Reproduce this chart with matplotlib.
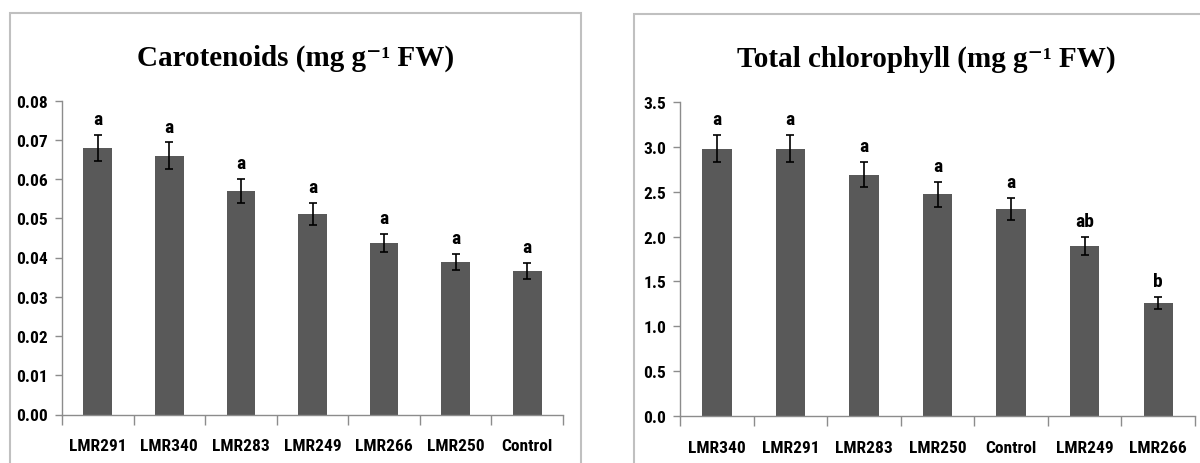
import matplotlib
matplotlib.use("Agg")
import matplotlib.pyplot as plt
from matplotlib.patches import Rectangle
from matplotlib.ticker import FormatStrFormatter
import numpy as np

tick_font = ["Roboto Condensed", "Liberation Sans"]
title_font = ["Liberation Serif", "DejaVu Serif"]

# carotenoids panel
car_labels = ["LMR291", "LMR340", "LMR283", "LMR249", "LMR266", "LMR250", "Control"]
car_values = [0.0679, 0.0659, 0.0569, 0.0512, 0.0438, 0.0389, 0.0365]
car_errors = [0.0034, 0.0034, 0.0030, 0.0028, 0.0023, 0.0020, 0.0020]
car_letters = ["a", "a", "a", "a", "a", "a", "a"]

# total chlorophyll panel
chl_labels = ["LMR340", "LMR291", "LMR283", "LMR250", "Control", "LMR249", "LMR266"]
chl_values = [2.98, 2.98, 2.69, 2.47, 2.31, 1.90, 1.26]
chl_errors = [0.15, 0.15, 0.14, 0.14, 0.12, 0.10, 0.07]
chl_letters = ["a", "a", "a", "a", "a", "ab", "b"]

bar_color = "#595959"
axis_color = "#8c8c8c"
box_color = "#c0c0c0"

W, H = 1200, 464
fig = plt.figure(figsize=(12, 4.64), dpi=100, facecolor="white")

# panel frames
fig.patches.append(Rectangle((10 / W, -0.1), 571 / W, 1.1 - 14 / H,
                             transform=fig.transFigure, fill=False,
                             edgecolor=box_color, linewidth=1.5))
fig.patches.append(Rectangle((634 / W, -0.1), 0.6, 1.1 - 15 / H,
                             transform=fig.transFigure, fill=False,
                             edgecolor=box_color, linewidth=1.5))


def draw_panel(rect, labels, values, errors, letters, ymax, step, fmt):
    ax = fig.add_axes(rect)
    x = np.arange(len(labels))
    ax.bar(x, values, width=0.4, color=bar_color, zorder=2)
    ax.errorbar(x, values, yerr=errors, fmt="none", ecolor="black",
                elinewidth=1.2, capsize=3, capthick=1.2, zorder=3)
    for xi, v, e, t in zip(x, values, errors, letters):
        ax.annotate(t, (xi, v + e), xytext=(0, 5), textcoords="offset points",
                    ha="center", va="bottom", fontsize=14, fontweight="bold",
                    family=tick_font)
    ax.set_xlim(-0.5, len(labels) - 0.5)
    ax.set_ylim(0, ymax)
    ax.set_yticks(np.arange(0, ymax + step / 2, step))
    ax.yaxis.set_major_formatter(FormatStrFormatter(fmt))
    ax.set_xticks(np.arange(-0.5, len(labels), 1.0))
    ax.set_xticklabels([])
    ax.set_xticks(x, minor=True)
    ax.set_xticklabels(labels, minor=True)
    ax.tick_params(axis="x", which="major", length=7, width=1, color=axis_color,
                   direction="out")
    ax.tick_params(axis="x", which="minor", length=0, pad=17)
    ax.tick_params(axis="y", length=5, width=1, color=axis_color, pad=5)
    for lab in ax.get_xticklabels(minor=True) + ax.get_yticklabels():
        lab.set_family(tick_font)
        lab.set_fontweight("bold")
        lab.set_fontsize(12.5)
    for s in ["top", "right"]:
        ax.spines[s].set_visible(False)
    for s in ["left", "bottom"]:
        ax.spines[s].set_color(axis_color)
        ax.spines[s].set_linewidth(1)
    return ax


ax1 = draw_panel([62 / W, 1 - 415.5 / H, 501 / W, 314 / H],
                 car_labels, car_values, car_errors, car_letters,
                 0.08, 0.01, "%.2f")
ax2 = draw_panel([680 / W, 1 - 417 / H, 515 / W, 314 / H],
                 chl_labels, chl_values, chl_errors, chl_letters,
                 3.5, 0.5, "%.1f")

fig.text(296 / W, 1 - 66 / H, "Carotenoids (mg g\u207b\u00b9 FW)", ha="center",
         va="baseline", fontsize=21, fontweight="bold", family=title_font)
fig.text(926 / W, 1 - 67 / H, "Total chlorophyll (mg g\u207b\u00b9 FW)", ha="center",
         va="baseline", fontsize=21, fontweight="bold", family=title_font)

fig.savefig("out.png", dpi=100, facecolor="white")
